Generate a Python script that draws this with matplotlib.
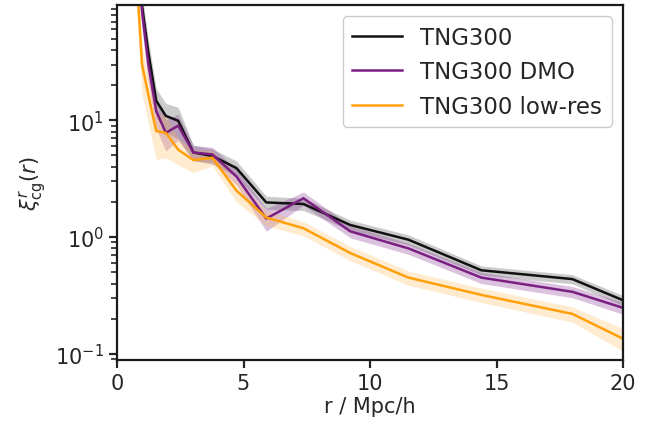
import numpy as np
import matplotlib
matplotlib.use("Agg")
import matplotlib.pyplot as plt

# radial bins (Mpc/h)
r = [0.79, 0.99, 1.24, 1.55, 1.93, 2.42, 3.02, 3.77, 4.72, 5.90, 7.37, 9.22, 11.52, 14.40, 18.00, 20.00]

# correlation function values
xi_tng300 = [300, 95, 38, 14.7, 10.9, 9.9, 5.3, 4.95, 3.9, 1.98, 1.92, 1.27, 0.95, 0.52, 0.437, 0.288]
xi_dmo    = [280, 85, 30, 12.0, 7.8, 9.0, 5.3, 5.1, 3.3, 1.44, 2.15, 1.12, 0.80, 0.45, 0.34, 0.248]
xi_lowres = [150, 30, 16.5, 8.1, 7.8, 5.6, 4.56, 4.78, 2.5, 1.47, 1.19, 0.73, 0.45, 0.32, 0.22, 0.135]

# fractional 1-sigma uncertainties
err_tng300 = [0.3, 0.3, 0.28, 0.27, 0.28, 0.3, 0.15, 0.15, 0.15, 0.13, 0.12, 0.10, 0.10, 0.09, 0.09, 0.10]
err_dmo    = [0.3, 0.3, 0.3, 0.3, 0.3, 0.25, 0.15, 0.15, 0.15, 0.22, 0.13, 0.12, 0.11, 0.11, 0.11, 0.12]
err_lowres = [0.45, 0.44, 0.43, 0.43, 0.39, 0.26, 0.22, 0.15, 0.2, 0.15, 0.14, 0.14, 0.14, 0.14, 0.15, 0.22]

labels = ["TNG300", "TNG300 DMO", "TNG300 low-res"]
colors = ["#111111", "#7b1f82", "#ffa00a"]
band_colors = ["#555555", "#8a3a96", "#ffb347"]
band_alpha = [0.3, 0.3, 0.25]

plt.rcParams.update({
    "font.family": "DejaVu Sans",
    "text.color": "#262626",
    "axes.labelcolor": "#262626",
    "xtick.color": "#262626",
    "ytick.color": "#262626",
    "axes.edgecolor": "#1a1a1a",
    "axes.linewidth": 1.6,
    "xtick.major.width": 1.6,
    "ytick.major.width": 1.6,
    "ytick.minor.width": 1.2,
    "xtick.major.size": 6,
    "ytick.major.size": 6,
    "ytick.minor.size": 4,
    "mathtext.fontset": "dejavusans",
})

fig = plt.figure(figsize=(6.68, 4.27), dpi=100)
ax = fig.add_axes([117/668, 1-361/427, (623-117)/668, (361-6)/427])

series = [xi_tng300, xi_dmo, xi_lowres]
errs = [err_tng300, err_dmo, err_lowres]
rr = np.array(r)
for vals, e, c, bc, a, lab in zip(series, errs, colors, band_colors, band_alpha, labels):
    v = np.array(vals)
    s = v * np.array(e)
    ax.fill_between(rr, v - s, v + s, color=bc, alpha=a, lw=0)
    ax.plot(rr, v, color=c, lw=1.8, label=lab)

ax.set_yscale("log")
ax.set_xlim(0, 20)
ax.set_ylim(0.0887, 97)
ax.set_xticks([0, 5, 10, 15, 20])
ax.tick_params(axis="both", which="major", labelsize=15)
ax.set_xlabel("r / Mpc/h", fontsize=15, labelpad=2)
ax.set_ylabel(r"$\xi^r_{\mathrm{cg}}(r)$", fontsize=15)

leg = ax.legend(loc="upper right", fontsize=16.5, frameon=True, fancybox=True,
                edgecolor="#cccccc", framealpha=1.0, handlelength=2.2)
leg.get_frame().set_linewidth(1.0)

fig.savefig("out.png", dpi=100)
